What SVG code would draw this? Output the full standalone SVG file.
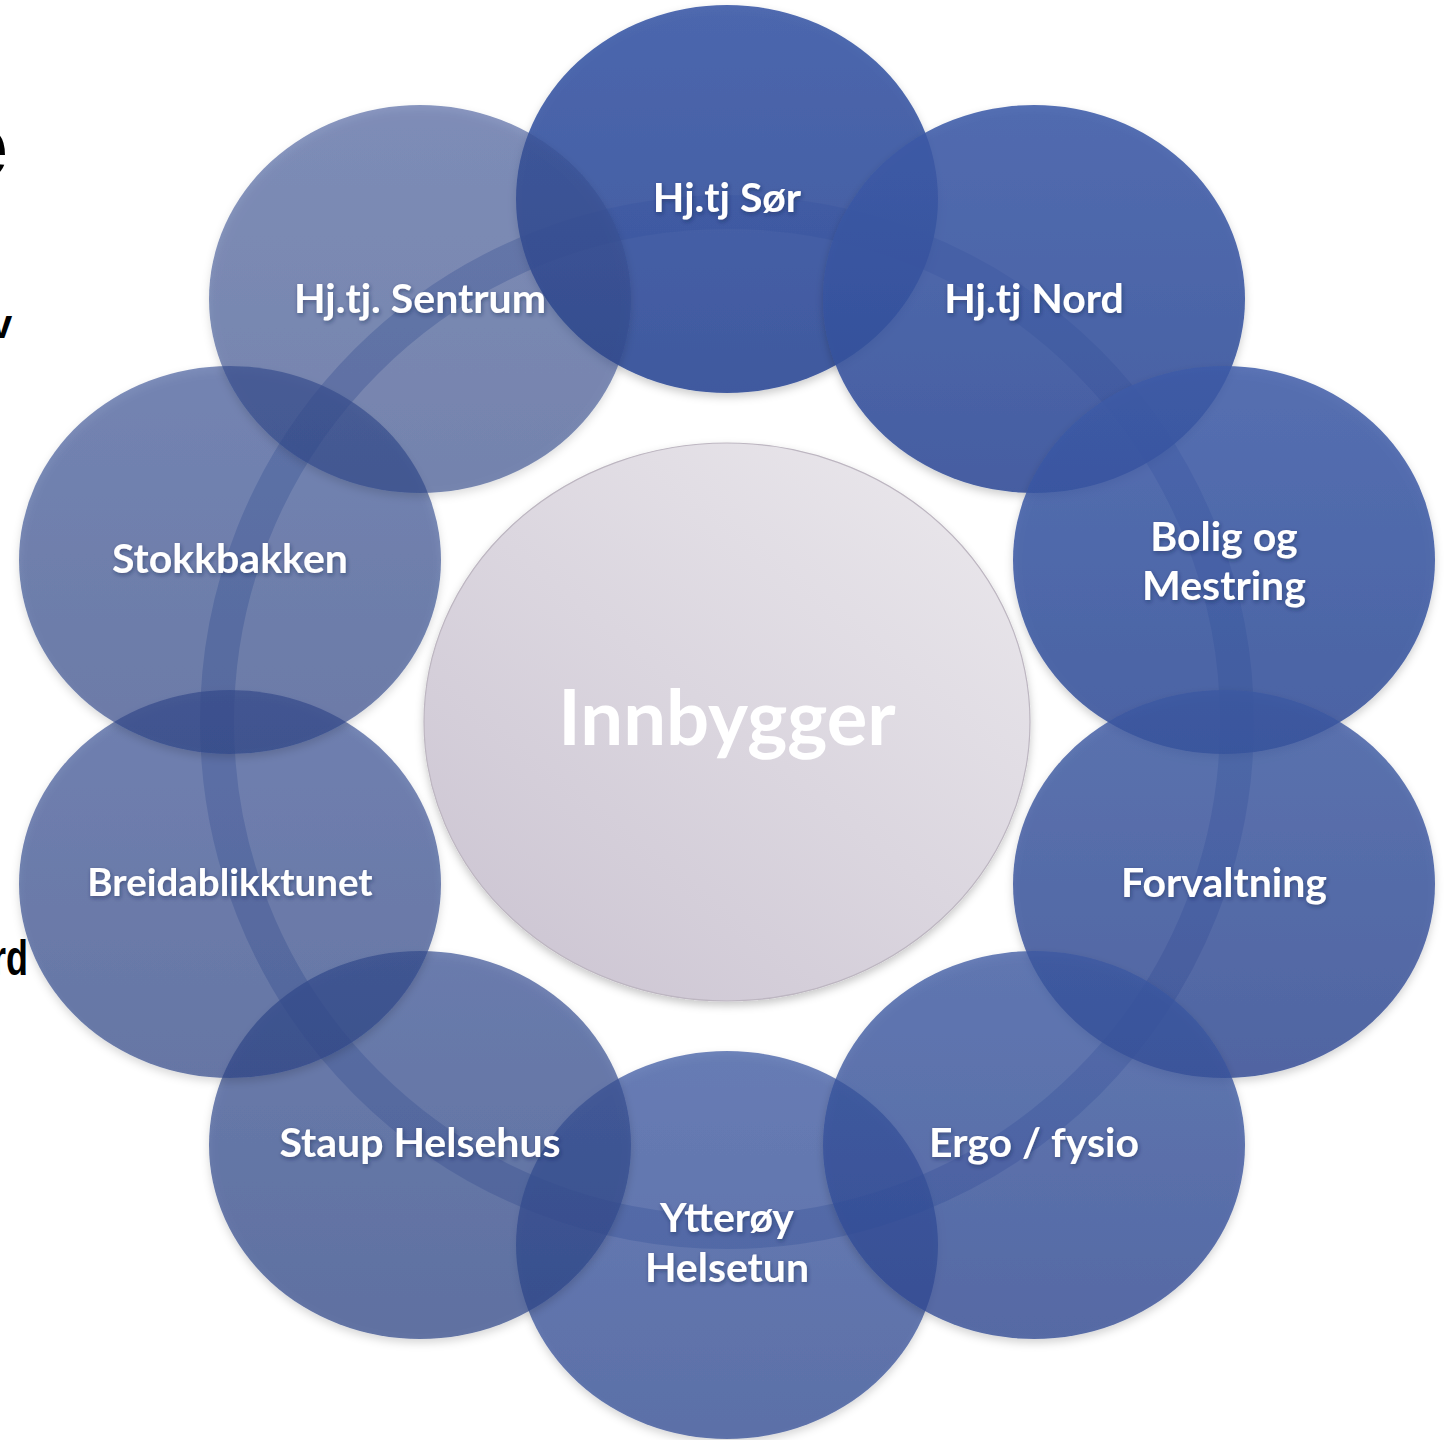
<svg xmlns="http://www.w3.org/2000/svg" width="1447" height="1440" viewBox="0 0 1447 1440">
  <defs>
    <linearGradient id="gA" x1="0" y1="0" x2="0" y2="1">
      <stop offset="0" stop-color="#3d5ba8"/>
      <stop offset="1" stop-color="#304c98"/>
    </linearGradient>
    <linearGradient id="gB" x1="0" y1="0" x2="0" y2="1">
      <stop offset="0" stop-color="#3c58a2"/>
      <stop offset="1" stop-color="#2e4892"/>
    </linearGradient>
    <linearGradient id="gC" x1="0" y1="0" x2="0" y2="1">
      <stop offset="0" stop-color="#3b5396"/>
      <stop offset="1" stop-color="#2d4587"/>
    </linearGradient>
    <linearGradient id="gCenter" x1="0.85" y1="0.1" x2="0.15" y2="0.9">
      <stop offset="0" stop-color="#e8e5ea"/>
      <stop offset="1" stop-color="#cec7d4"/>
    </linearGradient>
    <filter id="shadow" x="-10%" y="-10%" width="120%" height="125%">
      <feDropShadow dx="0" dy="4" stdDeviation="4" flood-color="#000" flood-opacity="0.22"/>
    </filter>
    <filter id="tshadow" x="-10%" y="-30%" width="120%" height="160%">
      <feDropShadow dx="1" dy="2" stdDeviation="2" flood-color="#1a2448" flood-opacity="0.45"/>
    </filter>
  </defs>
  <style>
    .c { filter: url(#shadow); }
    .a { fill: url(#gA); }
    .b { fill: url(#gB); }
    .m { fill: url(#gC); }
    .lbl { font-family: Lato, "Liberation Sans", sans-serif; font-weight: bold; font-size: 41px; fill: #ffffff; text-anchor: middle; filter: url(#tshadow); }
    .bg { font-family: "Liberation Sans", Arial, sans-serif; font-weight: bold; fill: #000000; }
  </style>
  <rect width="1447" height="1440" fill="#ffffff"/>

  <!-- cut-off background text at left edge -->
  <g id="background-text">
    <text class="bg" x="-42" y="177" font-size="90">e</text>
    <text class="bg" x="-10" y="338" font-size="40">v</text>
    <text class="bg" transform="translate(28,975) scale(0.72,1)" x="0" y="0" font-size="50" text-anchor="end">rd</text>
  </g>

  <!-- connectors: the cycle ring -->
  <g id="connectors">
    <circle cx="727" cy="722" r="510" fill="none" stroke="#3a5aa0" stroke-opacity="0.35" stroke-width="34"/>
  </g>

  <g id="node-hjtj-sor">
    <ellipse class="c a" cx="727" cy="199" rx="211" ry="194" fill-opacity="0.9"/>
    <text class="lbl" x="727" y="212">Hj.tj Sør</text>
  </g>
  <g id="node-hjtj-nord">
    <ellipse class="c a" cx="1034" cy="299" rx="211" ry="194" fill-opacity="0.87"/>
    <text class="lbl" x="1034" y="313">Hj.tj Nord</text>
  </g>
  <g id="node-bolig">
    <ellipse class="c a" cx="1224" cy="560" rx="211" ry="194" fill-opacity="0.84"/>
    <text class="lbl" x="1224" y="551">Bolig og</text>
    <text class="lbl" x="1224" y="600">Mestring</text>
  </g>
  <g id="node-forvaltning">
    <ellipse class="c b" cx="1224" cy="884" rx="211" ry="194" fill-opacity="0.8"/>
    <text class="lbl" x="1224" y="897">Forvaltning</text>
  </g>
  <g id="node-ytteroy">
    <ellipse class="c b" cx="727" cy="1245" rx="211" ry="194" fill-opacity="0.73"/>
    <text class="lbl" x="727" y="1232">Ytterøy</text>
    <text class="lbl" x="727" y="1282">Helsetun</text>
  </g>
  <g id="node-ergo">
    <ellipse class="c b" cx="1034" cy="1145" rx="211" ry="194" fill-opacity="0.77"/>
    <text class="lbl" x="1034" y="1157">Ergo / fysio</text>
  </g>
  <g id="node-staup">
    <ellipse class="c m" cx="420" cy="1145" rx="211" ry="194" fill-opacity="0.71"/>
    <text class="lbl" x="420" y="1157">Staup Helsehus</text>
  </g>
  <g id="node-breidablikk">
    <ellipse class="c m" cx="230" cy="884" rx="211" ry="194" fill-opacity="0.68"/>
    <text class="lbl" x="230" y="896" style="font-size:38.5px">Breidablikktunet</text>
  </g>
  <g id="node-stokkbakken">
    <ellipse class="c m" cx="230" cy="560" rx="211" ry="194" fill-opacity="0.65"/>
    <text class="lbl" x="230" y="573">Stokkbakken</text>
  </g>
  <g id="node-sentrum">
    <ellipse class="c m" cx="420" cy="299" rx="211" ry="194" fill-opacity="0.6"/>
    <text class="lbl" x="420" y="313">Hj.tj. Sentrum</text>
  </g>

  <g id="node-innbygger">
    <ellipse cx="727" cy="722" rx="303" ry="279" fill="url(#gCenter)" stroke="#bdb6c1" stroke-width="1.2" filter="url(#shadow)"/>
    <text x="727" y="745" text-anchor="middle" font-family="Lato, 'Liberation Sans', sans-serif" font-weight="bold" font-size="76" fill="#ffffff">Innbygger</text>
  </g>
</svg>
